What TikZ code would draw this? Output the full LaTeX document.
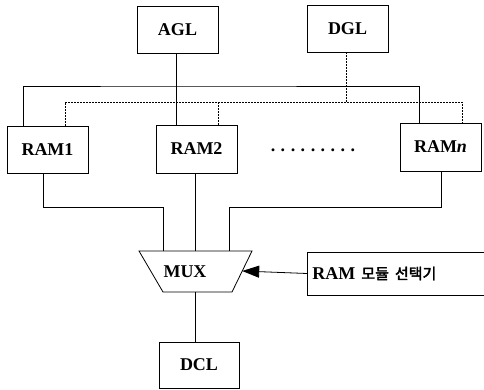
\documentclass[tikz,border=0pt]{standalone}
\usepackage{fontspec}
\setmainfont{Liberation Serif}
\newfontfamily\kr[AutoFakeBold=2.5]{Noto Sans CJK KR}
\usetikzlibrary{arrows.meta}
\begin{document}
\begin{tikzpicture}[x=1pt,y=-1pt,
  box/.style={draw,line width=0.8pt,inner sep=0pt,font=\fontsize{18}{20}\selectfont\bfseries},
  wire/.style={line width=0.8pt},
  dwire/.style={line width=0.8pt,dash pattern=on 1.5pt off 1.5pt},
  lbl/.style={font=\fontsize{18}{20}\selectfont\bfseries,inner sep=0pt}]
\useasboundingbox (0,0) rectangle (484,390);
% boxes
\node[box,minimum width=81pt,minimum height=47pt] (agl) at (177.5,29.5) {AGL\hspace{16pt}};
\node[box,minimum width=81pt,minimum height=47pt] (dgl) at (347.5,28.5) {DGL\hspace{11pt}};
\node[box,minimum width=81pt,minimum height=47pt] (ram1) at (47.5,149.5) {RAM1\hspace{17pt}};
\node[box,minimum width=81pt,minimum height=48pt] (ram2) at (196.5,149) {RAM2\hspace{17pt}};
\node[box,minimum width=81pt,minimum height=48pt] (ramn) at (440.5,147) {RAM\textit{n}\hspace{24pt}};
\node[box,minimum width=80pt,minimum height=46pt] (dcl) at (199,365) {DCL\hspace{14pt}};
\node[lbl] (dots) at (313,150) {.\hspace{5.5pt}.\hspace{5.5pt}.\hspace{5.5pt}.\hspace{5.5pt}.\hspace{5.5pt}.\hspace{5.5pt}.\hspace{5.5pt}.\hspace{5.5pt}.};
% selector
\node[box,anchor=west,text width=180pt,align=left,minimum height=43pt,inner xsep=5pt] (sel) at (307,273.5) {RAM {\kr\fontsize{15}{18}\selectfont 모듈 선택기}};
% MUX
\coordinate (mtl) at (139,251);
\coordinate (mtr) at (252,251);
\coordinate (mbr) at (232,292);
\coordinate (mbl) at (163,292);
\draw[wire] (mtl) -- (mtr) -- (mbr) -- (mbl) -- cycle;
\node[lbl] (mux) at (185,272) {MUX};
\coordinate (mtop1) at (163,251);
\coordinate (mtop2) at (195,251);
\coordinate (mtop3) at (229,251);
\coordinate (mbot) at (195,292);
\coordinate (mright) at (242.2,271);
% address bus
\coordinate (ab) at (176,86);
\draw[wire] (agl.south -| ab) -- (ram2.north -| ab);
\draw[wire] (ram1.north -| 23,0) |- (ab) -| (ramn.north -| 419,0);
% data bus (dotted)
\coordinate (db) at (346,102);
\draw[dwire] (dgl.south -| db) -- (db);
\draw[dwire] (ram1.north -| 65,0) |- (db) -| (ramn.north -| 462,0);
\draw[dwire] (ram2.north -| 218,0) -- (218,102);
% RAM outputs to MUX
\draw[wire] (ram1.south -| 43,0) |- (163,207) -- (mtop1);
\draw[wire] (ram2.south -| mtop2) -- (mtop2);
\draw[wire] (ramn.south -| 441,0) |- (229,207) -- (mtop3);
% MUX to DCL
\draw[wire] (mbot) -- (dcl.north -| mbot);
% selector arrow
\draw[wire,-{Triangle[length=17pt,width=12pt]}] (sel.west) -- (mright);
\end{tikzpicture}
\end{document}
